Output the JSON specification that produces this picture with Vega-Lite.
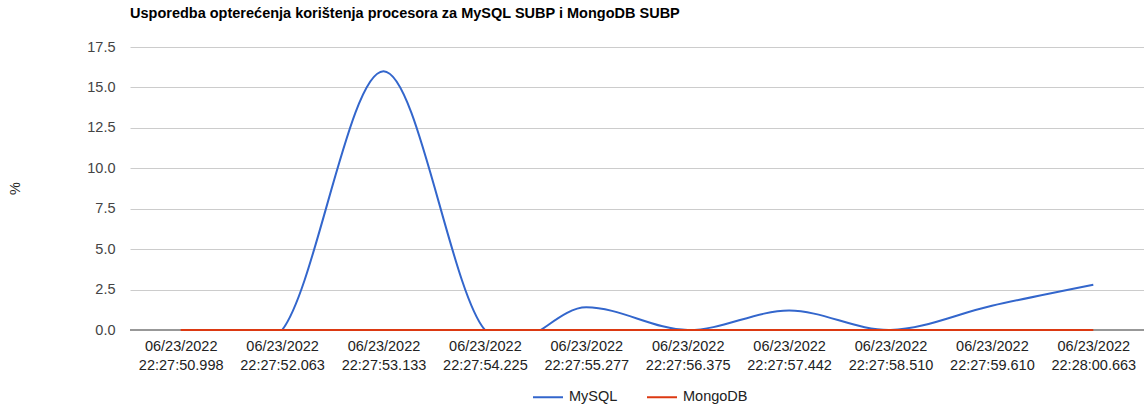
{
  "$schema": "https://vega.github.io/schema/vega-lite/v6.json",
  "width": 1014,
  "height": 283,
  "autosize": "none",
  "padding": {"left": 130, "top": 47, "right": 0, "bottom": 78},
  "background": "white",
  "config": {
    "font": "Liberation Sans",
    "view": {"stroke": null}
  },
  "title": {
    "text": "Usporedba opterećenja korištenja procesora za MySQL SUBP i MongoDB SUBP",
    "anchor": "start",
    "frame": "group",
    "fontSize": 14.5,
    "fontWeight": "bold",
    "color": "#000000",
    "offset": 18
  },
  "data": {
    "values": [
      {"t": "06/23/2022 22:27:50.998", "s": "MySQL", "v": 0},
      {"t": "06/23/2022 22:27:52.063", "s": "MySQL", "v": 0},
      {"t": "06/23/2022 22:27:53.133", "s": "MySQL", "v": 16},
      {"t": "06/23/2022 22:27:54.225", "s": "MySQL", "v": 0},
      {"t": "06/23/2022 22:27:55.277", "s": "MySQL", "v": 1.4},
      {"t": "06/23/2022 22:27:56.375", "s": "MySQL", "v": 0},
      {"t": "06/23/2022 22:27:57.442", "s": "MySQL", "v": 1.2},
      {"t": "06/23/2022 22:27:58.510", "s": "MySQL", "v": 0},
      {"t": "06/23/2022 22:27:59.610", "s": "MySQL", "v": 1.5},
      {"t": "06/23/2022 22:28:00.663", "s": "MySQL", "v": 2.8},
      {"t": "06/23/2022 22:27:50.998", "s": "MongoDB", "v": 0},
      {"t": "06/23/2022 22:27:52.063", "s": "MongoDB", "v": 0},
      {"t": "06/23/2022 22:27:53.133", "s": "MongoDB", "v": 0},
      {"t": "06/23/2022 22:27:54.225", "s": "MongoDB", "v": 0},
      {"t": "06/23/2022 22:27:55.277", "s": "MongoDB", "v": 0},
      {"t": "06/23/2022 22:27:56.375", "s": "MongoDB", "v": 0},
      {"t": "06/23/2022 22:27:57.442", "s": "MongoDB", "v": 0},
      {"t": "06/23/2022 22:27:58.510", "s": "MongoDB", "v": 0},
      {"t": "06/23/2022 22:27:59.610", "s": "MongoDB", "v": 0},
      {"t": "06/23/2022 22:28:00.663", "s": "MongoDB", "v": 0}
    ]
  },
  "encoding": {
    "x": {
      "field": "t",
      "type": "ordinal",
      "sort": null,
      "scale": {"type": "point", "padding": 0.5},
      "axis": {
        "title": null,
        "labelAngle": 0,
        "labelExpr": "split(datum.value, ' ')",
        "labelFontSize": 14.5,
        "labelColor": "#222222",
        "labelPadding": 9,
        "labelLineHeight": 19,
        "ticks": false,
        "grid": false,
        "domain": false
      }
    },
    "y": {
      "field": "v",
      "type": "quantitative",
      "scale": {"domain": [0, 17.5], "nice": false, "zero": true},
      "axis": {
        "title": "%",
        "titleFontSize": 14.5,
        "titleFontWeight": "normal",
        "titleColor": "#222222",
        "titleX": -115,
        "titleY": 141,
        "titleAngle": -90,
        "titleAlign": "center",
        "titleBaseline": "middle",
        "values": [0, 2.5, 5, 7.5, 10, 12.5, 15, 17.5],
        "format": ".1f",
        "labelFontSize": 14.5,
        "labelColor": "#444444",
        "labelPadding": 15,
        "ticks": false,
        "domain": false,
        "gridColor": "#cccccc",
        "gridWidth": 1
      }
    },
    "color": {
      "field": "s",
      "type": "nominal",
      "scale": {"domain": ["MySQL", "MongoDB"], "range": ["#3366cc", "#dc3912"]},
      "legend": {
        "title": null,
        "orient": "none",
        "direction": "horizontal",
        "legendX": 402,
        "legendY": 334,
        "symbolType": "stroke",
        "symbolSize": 900,
        "symbolStrokeWidth": 2,
        "labelFontSize": 14.5,
        "labelColor": "#222222",
        "columnPadding": 25,
        "labelOffset": 5
      }
    }
  },
  "layer": [
    {
      "mark": {"type": "rule", "color": "#999999", "strokeWidth": 1.5},
      "encoding": {
        "y": {"datum": 0},
        "color": null,
        "x": null
      }
    },
    {
      "transform": [{"filter": "datum.s === 'MySQL'"}],
      "mark": {"type": "line", "interpolate": "cardinal", "tension": 0, "strokeWidth": 2, "clip": true}
    },
    {
      "transform": [{"filter": "datum.s === 'MongoDB'"}],
      "mark": {"type": "line", "interpolate": "cardinal", "tension": 0, "strokeWidth": 2, "clip": false}
    }
  ]
}
